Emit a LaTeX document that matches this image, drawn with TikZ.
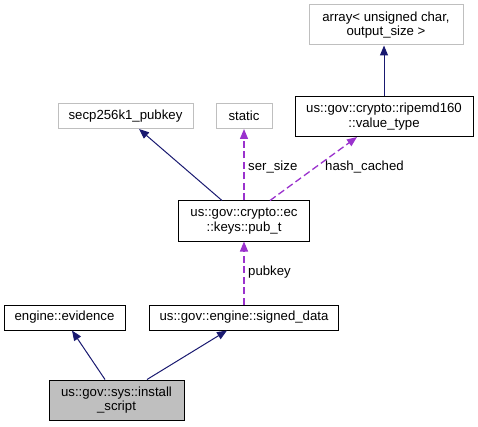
\documentclass[tikz,border=0pt]{standalone}
\usepackage{fontspec}
\setmainfont{Liberation Sans}
\usetikzlibrary{arrows.meta}
\definecolor{edgeblue}{HTML}{191970}
\definecolor{edgepurple}{HTML}{9A32CD}
\definecolor{greyline}{HTML}{BFBFBF}
\begin{document}
\begin{tikzpicture}[x=1pt,y=-1pt,
  every node/.style={font=\fontsize{13.2}{14.5}\selectfont, inner sep=0pt, align=center},
  box/.style={draw=black, line width=1pt, rectangle},
  greybox/.style={draw=greyline, line width=1pt, rectangle},
  curbox/.style={draw=black, fill=greyline, line width=1pt, rectangle},
  inherit/.style={draw=edgeblue, line width=1pt, -{Triangle[length=10pt,width=8pt]}},
  usage/.style={draw=edgepurple, color=edgepurple, line width=1.3pt, dash pattern=on 7pt off 3.5pt, -{Triangle[length=10pt,width=8pt]}},
  lbl/.style={anchor=west}
]
\useasboundingbox (0,0) rectangle (478,427);
\node[greybox, minimum width=154pt, minimum height=40pt] (arr) at (386,25) {array< unsigned char,\\output\_size >};
\node[box, minimum width=178pt, minimum height=40pt] (vt) at (384,116.5) {us::gov::crypto::ripemd160\\::value\_type};
\node[greybox, minimum width=135pt, minimum height=25pt] (secp) at (125.5,116) {secp256k1\_pubkey};
\node[greybox, minimum width=56pt, minimum height=25pt] (static) at (244,116) {static};
\node[box, minimum width=131pt, minimum height=40pt] (pubt) at (244,221) {us::gov::crypto::ec\\::keys::pub\_t};
\node[box, minimum width=121pt, minimum height=25pt] (evid) at (64.5,317.5) {engine::evidence};
\node[box, minimum width=189pt, minimum height=25pt] (sd) at (244,317.5) {us::gov::engine::signed\_data};
\node[curbox, minimum width=135pt, minimum height=40pt] (inst) at (116.5,400) {us::gov::sys::install\\\_script};

\draw[inherit] (vt.north) -- (vt.north |- arr.south);
\draw[inherit] ([xshift=-22pt]pubt.north) -- ([xshift=13.5pt]secp.south);
\draw[usage] (pubt.north) -- (pubt.north |- static.south);
\draw[usage] ([xshift=26pt]pubt.north) -- ([xshift=-27pt]vt.south);
\draw[usage] (sd.north) -- (pubt.south);
\draw[inherit] ([xshift=-11.5pt]inst.north) -- ([xshift=7.5pt]evid.south);
\draw[inherit] ([xshift=30.5pt]inst.north) -- ([xshift=-17pt]sd.south);

\node[lbl] (l1) at (248,167) {ser\_size};
\node[lbl] (l2) at (325,167) {hash\_cached};
\node[lbl] (l3) at (248,272) {pubkey};
\end{tikzpicture}
\end{document}
